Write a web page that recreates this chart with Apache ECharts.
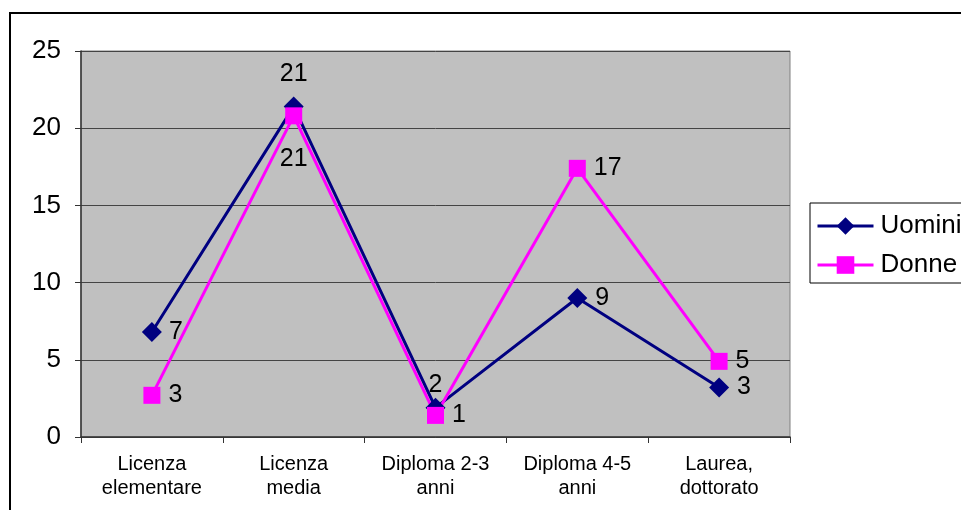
<!DOCTYPE html>
<html>
<head>
<meta charset="utf-8">
<script src="https://cdn.jsdelivr.net/npm/echarts@6/dist/echarts.min.js"></script>
<style>html,body{margin:0;padding:0;background:#fff;}#c{width:961px;height:510px;}</style>
</head>
<body>
<div id="c"></div>
<script>
var categories = ['Licenza\nelementare', 'Licenza\nmedia', 'Diploma 2-3\nanni', 'Diploma 4-5\nanni', 'Laurea,\ndottorato'];
var uomini = [6.8, 21.4, 1.9, 9.0, 3.2];
var donne = [2.7, 20.8, 1.4, 17.4, 4.9];
var yTicks = [0, 5, 10, 15, 20, 25];

var uominiLabelPos = ['right', 'top', 'top', 'right', 'right'];
var uominiLabelDist = [7, 10, 0, 8, 8];
var donneLabelPos = ['right', 'bottom', 'right', 'right', 'right'];
var donneLabelDist = [8, 22, 8, 8, 8];

function build(vals, pos, dist) {
  return vals.map(function (v, i) {
    return { value: v, label: { position: pos[i], distance: dist[i] } };
  });
}

var chart = echarts.init(document.getElementById('c'));
var FONT = 'Liberation Sans, Arial, sans-serif';
chart.setOption({
  animation: false,
  textStyle: { fontFamily: FONT },
  graphic: [{
    type: 'rect', left: 9, top: 12, z: -10,
    shape: { width: 1000, height: 600 },
    style: { fill: '#fff', stroke: '#000', lineWidth: 2 }
  }],
  grid: { left: 81, top: 51, right: 171, bottom: 73, show: true, backgroundColor: '#c0c0c0', borderColor: '#808080', borderWidth: 1 },
  legend: {
    left: 810, top: 203,
    orient: 'vertical',
    backgroundColor: '#fff', borderColor: '#000', borderWidth: 1,
    padding: [10, 20, 5, 6],
    itemWidth: 56, itemHeight: 22, itemGap: 13,
    lineStyle: { width: 3 },
    textStyle: { fontSize: 26, color: '#000', fontFamily: FONT, lineHeight: 26, padding: [0, 0, 0, 2] },
    data: ['Uomini', 'Donne']
  },
  xAxis: {
    type: 'category',
    data: categories,
    boundaryGap: true,
    axisLine: { lineStyle: { color: '#333', width: 1.5 } },
    axisTick: { show: true, length: 6, lineStyle: { color: '#333' } },
    axisLabel: { fontSize: 20, color: '#000', lineHeight: 24, margin: 15, fontFamily: FONT, interval: 0 }
  },
  yAxis: {
    type: 'value', min: yTicks[0], max: yTicks[yTicks.length - 1], interval: 5,
    axisLine: { show: true, lineStyle: { color: '#333', width: 1.5 } },
    axisTick: { show: true, length: 6, lineStyle: { color: '#333' } },
    splitLine: { lineStyle: { color: '#444', width: 1 } },
    axisLabel: { fontSize: 26, color: '#000', margin: 20, fontFamily: FONT }
  },
  series: [{
    name: 'Uomini', type: 'line',
    data: build(uomini, uominiLabelPos, uominiLabelDist),
    symbol: 'diamond', symbolSize: 20,
    itemStyle: { color: '#000080' },
    lineStyle: { color: '#000080', width: 3 },
    label: { show: true, fontSize: 25, color: '#000', fontFamily: FONT, formatter: function (p) { return Math.round(p.value); } }
  }, {
    name: 'Donne', type: 'line',
    data: build(donne, donneLabelPos, donneLabelDist),
    symbol: 'rect', symbolSize: 17,
    itemStyle: { color: '#ff00ff' },
    lineStyle: { color: '#ff00ff', width: 3 },
    label: { show: true, fontSize: 25, color: '#000', fontFamily: FONT, formatter: function (p) { return Math.round(p.value); } }
  }]
});
</script>
</body>
</html>
